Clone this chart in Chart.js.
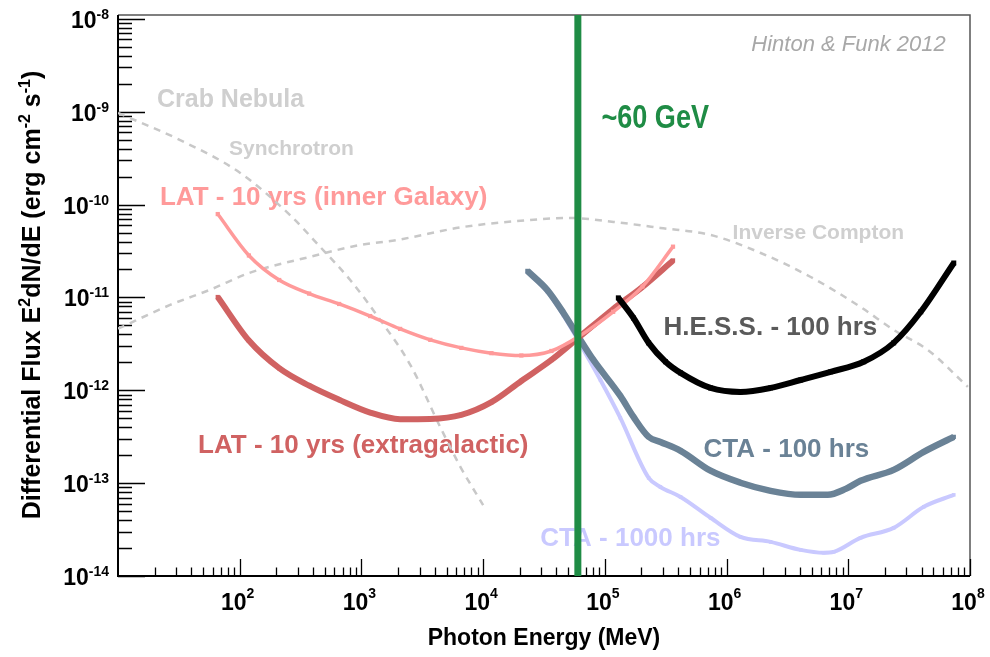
<!DOCTYPE html>
<html>
<head>
<meta charset="utf-8">
<script src="https://cdn.jsdelivr.net/npm/chart.js@4.4.1/dist/chart.umd.min.js"></script>
<style>
  html, body { margin: 0; padding: 0; background: #fff; }
  canvas { display: block; }
</style>
</head>
<body>
<canvas id="canvasChart" width="990" height="657"></canvas>
<script>
// energies in MeV, fluxes as E^2 dN/dE in erg cm^-2 s^-1
var latEnergy = [66, 119, 211, 372, 656, 1180, 2080, 3680, 6620, 11700, 20600, 36400, 60300, 117000, 204000, 363000];
var latInnerFlux = [7.9e-11, 2.83e-11, 1.54e-11, 1.10e-11, 8.5e-12, 6.3e-12, 4.58e-12, 3.49e-12, 2.86e-12, 2.51e-12, 2.37e-12, 2.65e-12, 3.76e-12, 7.0e-12, 1.31e-11, 3.52e-11];
var latExtraFlux = [1.01e-11, 3.43e-12, 1.73e-12, 1.12e-12, 7.9e-13, 5.75e-13, 4.89e-13, 4.92e-13, 5.43e-13, 7.44e-13, 1.26e-12, 2.12e-12, 3.66e-12, 7.5e-12, 1.30e-11, 2.50e-11];

var cta100Energy = [23100, 33700, 45700, 60700, 80500, 134000, 172000, 229000, 286000, 419000, 738000, 1.30e6, 2.30e6, 4.06e6, 6.78e6, 9.53e6, 1.26e7, 2.36e7, 4.17e7, 7.36e7];
var cta100Flux = [1.93e-11, 1.20e-11, 6.8e-12, 3.75e-12, 2.12e-12, 8.7e-13, 5.16e-13, 3.15e-13, 2.78e-13, 2.23e-13, 1.36e-13, 1.01e-13, 8.26e-14, 7.48e-14, 7.48e-14, 8.67e-14, 1.06e-13, 1.39e-13, 2.17e-13, 3.15e-13];

var cta1000Energy = [23100, 33700, 45700, 60700, 92000, 134000, 229000, 286000, 419000, 738000, 1.30e6, 2.30e6, 4.06e6, 6.28e6, 7.59e6, 1.26e7, 2.36e7, 4.17e7, 7.36e7];
var cta1000Flux = [1.88e-11, 1.15e-11, 6.4e-12, 3.4e-12, 1.29e-12, 5.05e-13, 1.14e-13, 9.1e-14, 7.1e-14, 4.24e-14, 2.64e-14, 2.33e-14, 1.91e-14, 1.78e-14, 1.82e-14, 2.58e-14, 3.30e-14, 5.56e-14, 7.48e-14];

var hessEnergy = [129000, 172000, 229000, 315000, 419000, 738000, 1.30e6, 2.30e6, 4.06e6, 7.16e6, 1.34e7, 2.36e7, 3.94e7, 7.36e7];
var hessFlux = [9.9e-12, 6.0e-12, 3.24e-12, 2.03e-12, 1.54e-12, 1.06e-12, 9.6e-13, 1.06e-12, 1.29e-12, 1.58e-12, 2.03e-12, 3.24e-12, 7.0e-12, 2.35e-11];

// Crab nebula model
var synchEnergy = [10, 32.4, 101, 259, 458, 809, 1430, 2520, 4450, 6500, 10000];
var synchFlux = [9.7e-10, 4.95e-10, 2.19e-10, 7.7e-11, 3.5e-11, 1.54e-11, 5.7e-12, 1.88e-12, 4.0e-13, 1.5e-13, 5.8e-14];
var icEnergy = [10, 26.8, 57.1, 122, 379, 977, 1970, 6870, 24400, 52100, 118000, 286000, 738000, 1.91e6, 4.91e6, 1.26e7, 2.36e7, 4.5e7, 9.6e7];
var icFlux = [4.6e-12, 8.3e-12, 1.21e-11, 1.85e-11, 2.74e-11, 3.67e-11, 4.16e-11, 5.74e-11, 6.82e-11, 7.18e-11, 6.5e-11, 5.6e-11, 4.71e-11, 3.01e-11, 1.66e-11, 7.9e-12, 4.47e-12, 2.72e-12, 1.09e-12];

var thresholdEnergy = 60000; // ~60 GeV

// axis decades (tick labels are 10^n)
var xDecades = [2, 3, 4, 5, 6, 7, 8];
var yDecades = [-8, -9, -10, -11, -12, -13, -14];

var FONT = '"Liberation Sans", Arial, "DejaVu Sans", sans-serif';

// labels anchored in data units (energy, flux) at the left end of the baseline
var notes = [
  { text: 'Crab Nebula', e: 20.9, f: 1.12e-9, font: 'bold 25px ' + FONT, color: '#cfcfcf' },
  { text: 'Synchrotron', e: 81.8, f: 3.42e-10, font: 'bold 21px ' + FONT, color: '#cfcfcf' },
  { text: 'LAT - 10 yrs (inner Galaxy)', e: 22.1, f: 9.9e-11, font: 'bold 26px ' + FONT, color: '#ff9a9a' },
  { text: '~60 GeV', e: 93700, f: 6.68e-10, font: 'bold 33px ' + FONT, color: '#1f8c45', squeeze: 0.82 },
  { text: 'Hinton & Funk 2012', e: 6.32e7, f: 4.5e-9, font: 'italic 22px ' + FONT, color: '#a8a8a8', align: 'right' },
  { text: 'Inverse Compton', e: 1.12e6, f: 4.27e-11, font: 'bold 21px ' + FONT, color: '#cfcfcf' },
  { text: 'H.E.S.S. - 100 hrs', e: 3.03e5, f: 3.94e-12, font: 'bold 26px ' + FONT, color: '#5a5a5a' },
  { text: 'CTA - 100 hrs', e: 6.47e5, f: 1.92e-13, font: 'bold 26px ' + FONT, color: '#6a8296' },
  { text: 'LAT - 10 yrs (extragalactic)', e: 45.5, f: 2.12e-13, font: 'bold 26px ' + FONT, color: '#d06262' },
  { text: 'CTA - 1000 hrs', e: 29500, f: 2.11e-14, font: 'bold 26px ' + FONT, color: '#c9c9ff' }
];

function pts(xs, ys) {
  return xs.map(function (x, i) { return { x: x, y: ys[i] }; });
}

function drawRich(ctx, parts, x, y, align, big, small, rise) {
  var w = 0;
  parts.forEach(function (p) {
    ctx.font = p[1] ? small : big;
    w += ctx.measureText(p[0]).width;
  });
  var cx = align == 'right' ? x - w : (align == 'center' ? x - w / 2 : x);
  parts.forEach(function (p) {
    ctx.font = p[1] ? small : big;
    ctx.fillText(p[0], cx, p[1] ? y - rise : y);
    cx += ctx.measureText(p[0]).width;
  });
}

var framePlugin = {
  id: 'frame',
  beforeDatasetsDraw: function (chart) {
    var ctx = chart.ctx, a = chart.chartArea;
    var xs = chart.scales.x, ys = chart.scales.y;
    ctx.save();

    // annotations
    ctx.textBaseline = 'alphabetic';
    notes.forEach(function (n) {
      var px = xs.getPixelForValue(n.e), py = ys.getPixelForValue(n.f);
      ctx.save();
      ctx.font = n.font;
      ctx.fillStyle = n.color;
      ctx.textAlign = n.align || 'left';
      ctx.translate(px, py);
      if (n.squeeze) ctx.scale(n.squeeze, 1);
      ctx.fillText(n.text, 0, 0);
      ctx.restore();
    });
    ctx.textAlign = 'left';

    // top/right frame
    ctx.strokeStyle = '#555';
    ctx.lineWidth = 1.5;
    ctx.beginPath();
    ctx.moveTo(a.left, a.top);
    ctx.lineTo(a.right, a.top);
    ctx.lineTo(a.right, a.bottom);
    ctx.stroke();

    // inner ticks
    ctx.strokeStyle = '#000';
    ctx.lineWidth = 1.3;
    ctx.beginPath();
    for (var k = 1; k <= 8; k++) {
      for (var m = 1; m <= 9; m++) {
        var v = m * Math.pow(10, k);
        if (v <= 10 || v > 1e8) continue;
        var px = Math.round(xs.getPixelForValue(v)) + 0.5;
        ctx.moveTo(px, a.bottom);
        ctx.lineTo(px, a.bottom - (m == 1 ? 17 : 8.5));
      }
    }
    for (var k = -14; k <= -8; k++) {
      for (var m = 1; m <= 9; m++) {
        var v = m * Math.pow(10, k);
        if (v > 1.1e-8) continue;
        var py = Math.round(ys.getPixelForValue(v)) + 0.5;
        ctx.moveTo(a.left, py);
        ctx.lineTo(a.left + (m == 1 ? 27 : 14), py);
      }
    }
    ctx.stroke();

    // main axes
    ctx.lineWidth = 2;
    ctx.beginPath();
    ctx.moveTo(a.left, a.top);
    ctx.lineTo(a.left, a.bottom);
    ctx.lineTo(a.right, a.bottom);
    ctx.stroke();

    // tick labels
    ctx.fillStyle = '#000';
    var big = 'bold 23px ' + FONT, small = 'bold 14px ' + FONT;
    xDecades.forEach(function (d) {
      drawRich(ctx, [['10', false], [String(d), true]], xs.getPixelForValue(Math.pow(10, d)) - 2, a.bottom + 34, 'center', big, small, 12);
    });
    yDecades.forEach(function (d) {
      drawRich(ctx, [['10', false], [String(d), true]], a.left - 9, ys.getPixelForValue(Math.pow(10, d)) + 9, 'right', big, small, 9);
    });

    // axis titles
    drawRich(ctx, [['Photon Energy (MeV)', false]], (a.left + a.right) / 2, 645, 'center', 'bold 23px ' + FONT, small, 0);
    ctx.translate(40, 295);
    ctx.rotate(-Math.PI / 2);
    drawRich(ctx, [['Differential Flux E', false], ['2', true], ['dN/dE (erg cm', false], ['-2', true], [' s', false], ['-1', true], [')', false]],
      0, 0, 'center', 'bold 25px ' + FONT, 'bold 16px ' + FONT, 10);
    ctx.restore();
  }
};

function lineSet(data, color, width, radius, order) {
  return {
    data: data,
    borderColor: color,
    backgroundColor: color,
    borderWidth: width,
    pointRadius: radius,
    pointStyle: 'rect',
    pointBorderWidth: 0,
    pointBackgroundColor: color,
    cubicInterpolationMode: 'monotone',
    fill: false,
    order: order
  };
}

function dashedSet(data, order) {
  return {
    data: data,
    borderColor: '#c8c8c8',
    borderWidth: 2.5,
    borderDash: [7, 6],
    pointRadius: 0,
    cubicInterpolationMode: 'monotone',
    fill: false,
    order: order
  };
}

var canvas = document.getElementById('canvasChart');
var chart = new Chart(canvas, {
  type: 'line',
  data: {
    datasets: [
      dashedSet(pts(synchEnergy, synchFlux), 8),
      dashedSet(pts(icEnergy, icFlux), 8),
      lineSet(pts(cta1000Energy, cta1000Flux), '#c9c9ff', 4, 2.5, 6),
      lineSet(pts(cta100Energy, cta100Flux), '#6a8296', 6.5, 3, 5),
      lineSet(pts(latEnergy, latExtraFlux), '#d06262', 6, 3, 4),
      lineSet(pts(latEnergy, latInnerFlux), '#ff9a9a', 3.5, 3, 3),
      lineSet(pts(hessEnergy, hessFlux), '#000000', 6, 3.5, 2),
      {
        data: [{ x: thresholdEnergy, y: 1e-14 }, { x: thresholdEnergy, y: 1.1e-8 }],
        borderColor: '#1f8c45',
        borderWidth: 7,
        pointRadius: 0,
        fill: false,
        order: 0
      }
    ]
  },
  options: {
    responsive: false,
    animation: false,
    devicePixelRatio: 1,
    layout: { padding: { left: 118, top: 15, right: 20, bottom: 81 } },
    plugins: { legend: { display: false }, tooltip: { enabled: false } },
    scales: {
      x: { type: 'logarithmic', min: 10, max: 1e8, display: false },
      y: { type: 'logarithmic', min: 1e-14, max: 1.1e-8, display: false }
    }
  },
  plugins: [framePlugin]
});
</script>
</body>
</html>
